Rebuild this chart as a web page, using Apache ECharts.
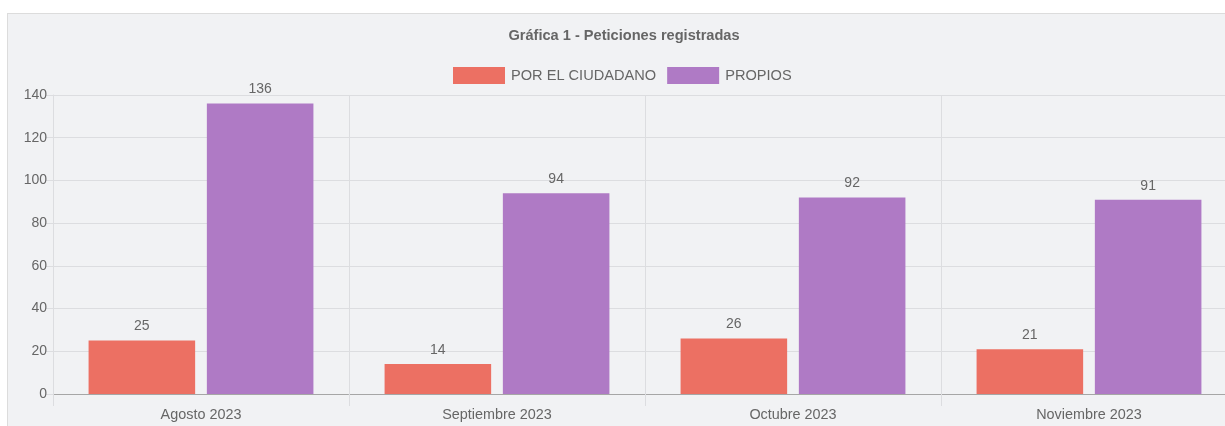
<!DOCTYPE html>
<html>
<head>
<meta charset="utf-8">
<script src="https://cdn.jsdelivr.net/npm/echarts@6/dist/echarts.min.js"></script>
<style>
  html, body { margin: 0; padding: 0; background: #ffffff; overflow: hidden; width: 1225px; height: 426px; }
  #panel { position: absolute; left: 7px; top: 13px; width: 1260px; height: 430px; background: #f1f2f4; border-top: 1px solid #dcdcdc; border-left: 1px solid #dcdcdc; }
  #chart { position: absolute; left: 0; top: 0; width: 1248px; height: 426px; }
</style>
</head>
<body>
<div id="panel"></div>
<div id="chart"></div>
<script>
const months = ['Agosto 2023', 'Septiembre 2023', 'Octubre 2023', 'Noviembre 2023']
const ciudadano = [25, 14, 26, 21]
const propios = [136, 94, 92, 91]
const yTicks = { min: 0, max: 140, step: 20 }

const gridColor = '#dcdde0'
const textColor = '#666666'

const mychart = echarts.init(document.getElementById('chart'))
mychart.setOption(getOption())

function getOption() {
  return {
    backgroundColor: 'transparent',
    textStyle: { fontFamily: 'Arial, "Liberation Sans", sans-serif' },
    title: {
      text: 'Gráfica 1 - Peticiones registradas',
      left: 'center',
      top: 23,
      textStyle: { fontSize: 14.6, fontWeight: 'bold', color: textColor }
    },
    legend: {
      left: 448,
      top: 62,
      itemWidth: 52,
      itemHeight: 17,
      itemGap: 11,
      icon: 'rect',
      textStyle: { fontSize: 14.6, color: textColor, padding: [0, 0, 0, 1] },
      data: ['POR EL CIUDADANO', 'PROPIOS']
    },
    grid: { left: 53, top: 95, right: 11, bottom: 32 },
    xAxis: {
      type: 'category',
      data: months,
      axisLine: { lineStyle: { color: '#a6a6a6' } },
      axisTick: { show: true, length: 12, interval: 0, lineStyle: { color: gridColor } },
      splitLine: { show: true, interval: 0, lineStyle: { color: gridColor } },
      axisLabel: { margin: 14, fontSize: 14.4, color: textColor }
    },
    yAxis: {
      type: 'value',
      min: yTicks.min,
      max: yTicks.max,
      interval: yTicks.step,
      axisLine: { show: true, lineStyle: { color: gridColor } },
      axisTick: { show: true, length: 8, lineStyle: { color: gridColor } },
      splitLine: { lineStyle: { color: gridColor } },
      axisLabel: { margin: 6, fontSize: 14, color: textColor }
    },
    series: [
      {
        name: 'POR EL CIUDADANO',
        type: 'bar',
        data: ciudadano,
        barWidth: '36%',
        barGap: '11%',
        itemStyle: { color: '#EC7063' },
        label: { show: true, position: 'top', distance: 7, fontSize: 14, color: textColor }
      },
      {
        name: 'PROPIOS',
        type: 'bar',
        data: propios,
        barWidth: '36%',
        barGap: '11%',
        itemStyle: { color: '#AF7AC5' },
        label: { show: true, position: 'top', distance: 7, fontSize: 14, color: textColor }
      }
    ]
  }
}
</script>
</body>
</html>
